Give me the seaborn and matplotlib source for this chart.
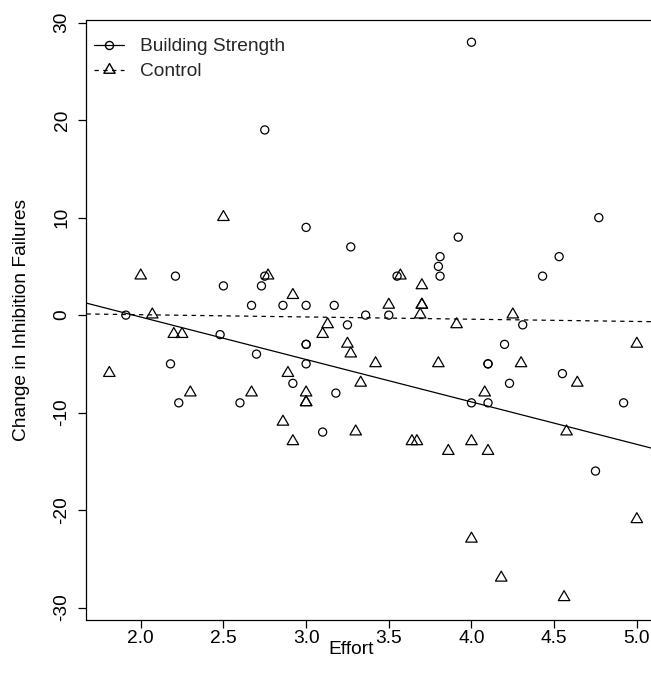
import numpy as np
import pandas as pd
import matplotlib
matplotlib.use("Agg")
import matplotlib.pyplot as plt
from matplotlib.lines import Line2D
from matplotlib.path import Path
import seaborn as sns

# ---- data ----
bs_x = [1.91, 2.18, 2.21, 2.23, 2.48, 2.50, 2.60, 2.67, 2.70, 2.73, 2.75, 2.75,
        2.86, 2.92, 3.00, 3.00, 3.00, 3.00, 3.00, 3.10, 3.17, 3.18, 3.25, 3.27,
        3.36, 3.50, 3.55, 3.80, 3.81, 3.81, 3.92, 4.00, 4.00, 4.10, 4.10, 4.10,
        4.20, 4.23, 4.31, 4.43, 4.53, 4.55, 4.75, 4.77, 4.92]
bs_y = [0, -5, 4, -9, -2, 3, -9, 1, -4, 3, 19, 4,
        1, -7, 9, 1, -3, -3, -5, -12, 1, -8, -1, 7,
        0, 0, 4, 5, 6, 4, 8, 28, -9, -5, -5, -9,
        -3, -7, -1, 4, 6, -6, -16, 10, -9]

ct_x = [1.81, 2.00, 2.07, 2.20, 2.25, 2.30, 2.50, 2.67, 2.77, 2.86, 2.89, 2.92,
        2.92, 3.00, 3.00, 3.00, 3.10, 3.13, 3.25, 3.27, 3.30, 3.33, 3.42, 3.50,
        3.57, 3.64, 3.67, 3.70, 3.70, 3.70, 3.69, 3.80, 3.86, 3.91, 4.00, 4.00,
        4.08, 4.10, 4.18, 4.25, 4.30, 4.56, 4.575, 4.64, 5.00, 5.00]
ct_y = [-6, 4, 0, -2, -2, -8, 10, -8, 4, -11, -6, 2,
        -13, -8, -9, -9, -2, -1, -3, -4, -12, -7, -5, 1,
        4, -13, -13, 3, 1, 1, 0, -5, -14, -1, -13, -23,
        -8, -14, -27, 0, -5, -29, -12, -7, -3, -21]

# fitted lines (intercept, slope)
bs_line = [8.51, -4.354]
ct_line = [0.505, -0.231]

series_labels = ["Building Strength", "Control"]
x_ticks = [2.0, 2.5, 3.0, 3.5, 4.0, 4.5, 5.0]
y_ticks = [-30, -20, -10, 0, 10, 20, 30]
x_label = "Effort"
y_label = "Change in Inhibition Failures"

# ---- styling ----
sns.set_theme(style="white")
plt.rcParams["font.family"] = ["Liberation Sans", "DejaVu Sans"]
plt.rcParams["axes.edgecolor"] = "black"
plt.rcParams["axes.linewidth"] = 0.9

FS = 13.8
W, H = 651, 684
fig = plt.figure(figsize=(W / 100, H / 100), dpi=100)
left, right, top, bottom = 86.5, 658.0, 20.0, 620.0
ax = fig.add_axes([left / W, 1 - bottom / H, (right - left) / W, (bottom - top) / H])

xlim = (1.672, 5.128)
ylim = (-31.28, 30.28)

df_bs = pd.DataFrame({"x": bs_x, "y": bs_y})
df_ct = pd.DataFrame({"x": ct_x, "y": ct_y})

tv = [(0, 0.62), (-0.5, -0.246), (0.5, -0.246), (0, 0.62)]
tri = Path(tv, closed=True)

sns.scatterplot(data=df_bs, x="x", y="y", marker="o", s=34,
                facecolors="none", edgecolors="black", linewidth=0.9, ax=ax)
sns.scatterplot(data=df_ct, x="x", y="y", marker=tri, s=105,
                facecolors="none", edgecolors="black", linewidth=0.9, ax=ax)

lx = np.array(xlim)
sns.lineplot(x=lx, y=bs_line[0] + bs_line[1] * lx, color="black", lw=0.9,
             estimator=None, ax=ax)
sns.lineplot(x=lx, y=ct_line[0] + ct_line[1] * lx, color="black", lw=0.9,
             linestyle=(0, (3.5, 3.5)), estimator=None, ax=ax)

ax.set_xlim(*xlim)
ax.set_ylim(*ylim)
ax.set_xticks(x_ticks)
ax.set_xticklabels([f"{v:.1f}" for v in x_ticks])
ax.set_yticks(y_ticks)
ax.set_yticklabels([str(v) for v in y_ticks], rotation=90, va="center")
ax.tick_params(axis="both", direction="out", length=5.5, width=0.9,
               color="black", labelsize=FS, labelcolor="black",
               bottom=True, left=True)
ax.tick_params(axis="x", pad=2)
ax.tick_params(axis="y", pad=6)
ax.set_xlabel(x_label, fontsize=FS, color="black")
ax.xaxis.set_label_coords((351 - left) / (right - left), (bottom - 641) / (bottom - top))
ax.set_ylabel(y_label, fontsize=FS, color="black", labelpad=17)
for s in ax.spines.values():
    s.set_visible(True)
    s.set_color("black")

handles = [
    Line2D([0], [0], color="black", lw=0.9, marker="o", markersize=5.8,
           markerfacecolor="none", markeredgecolor="black"),
    Line2D([0], [0], color="black", lw=0.9, linestyle=(0, (3.5, 3.5)), marker=tri,
           markersize=10, markerfacecolor="none", markeredgecolor="black"),
]
ax.legend(handles, series_labels, loc="upper left", frameon=False, fontsize=FS,
          handlelength=1.55, handletextpad=0.85, labelspacing=0.4,
          borderaxespad=0.0, bbox_to_anchor=(0.0, 0.983))

fig.savefig("out.png", dpi=100)
